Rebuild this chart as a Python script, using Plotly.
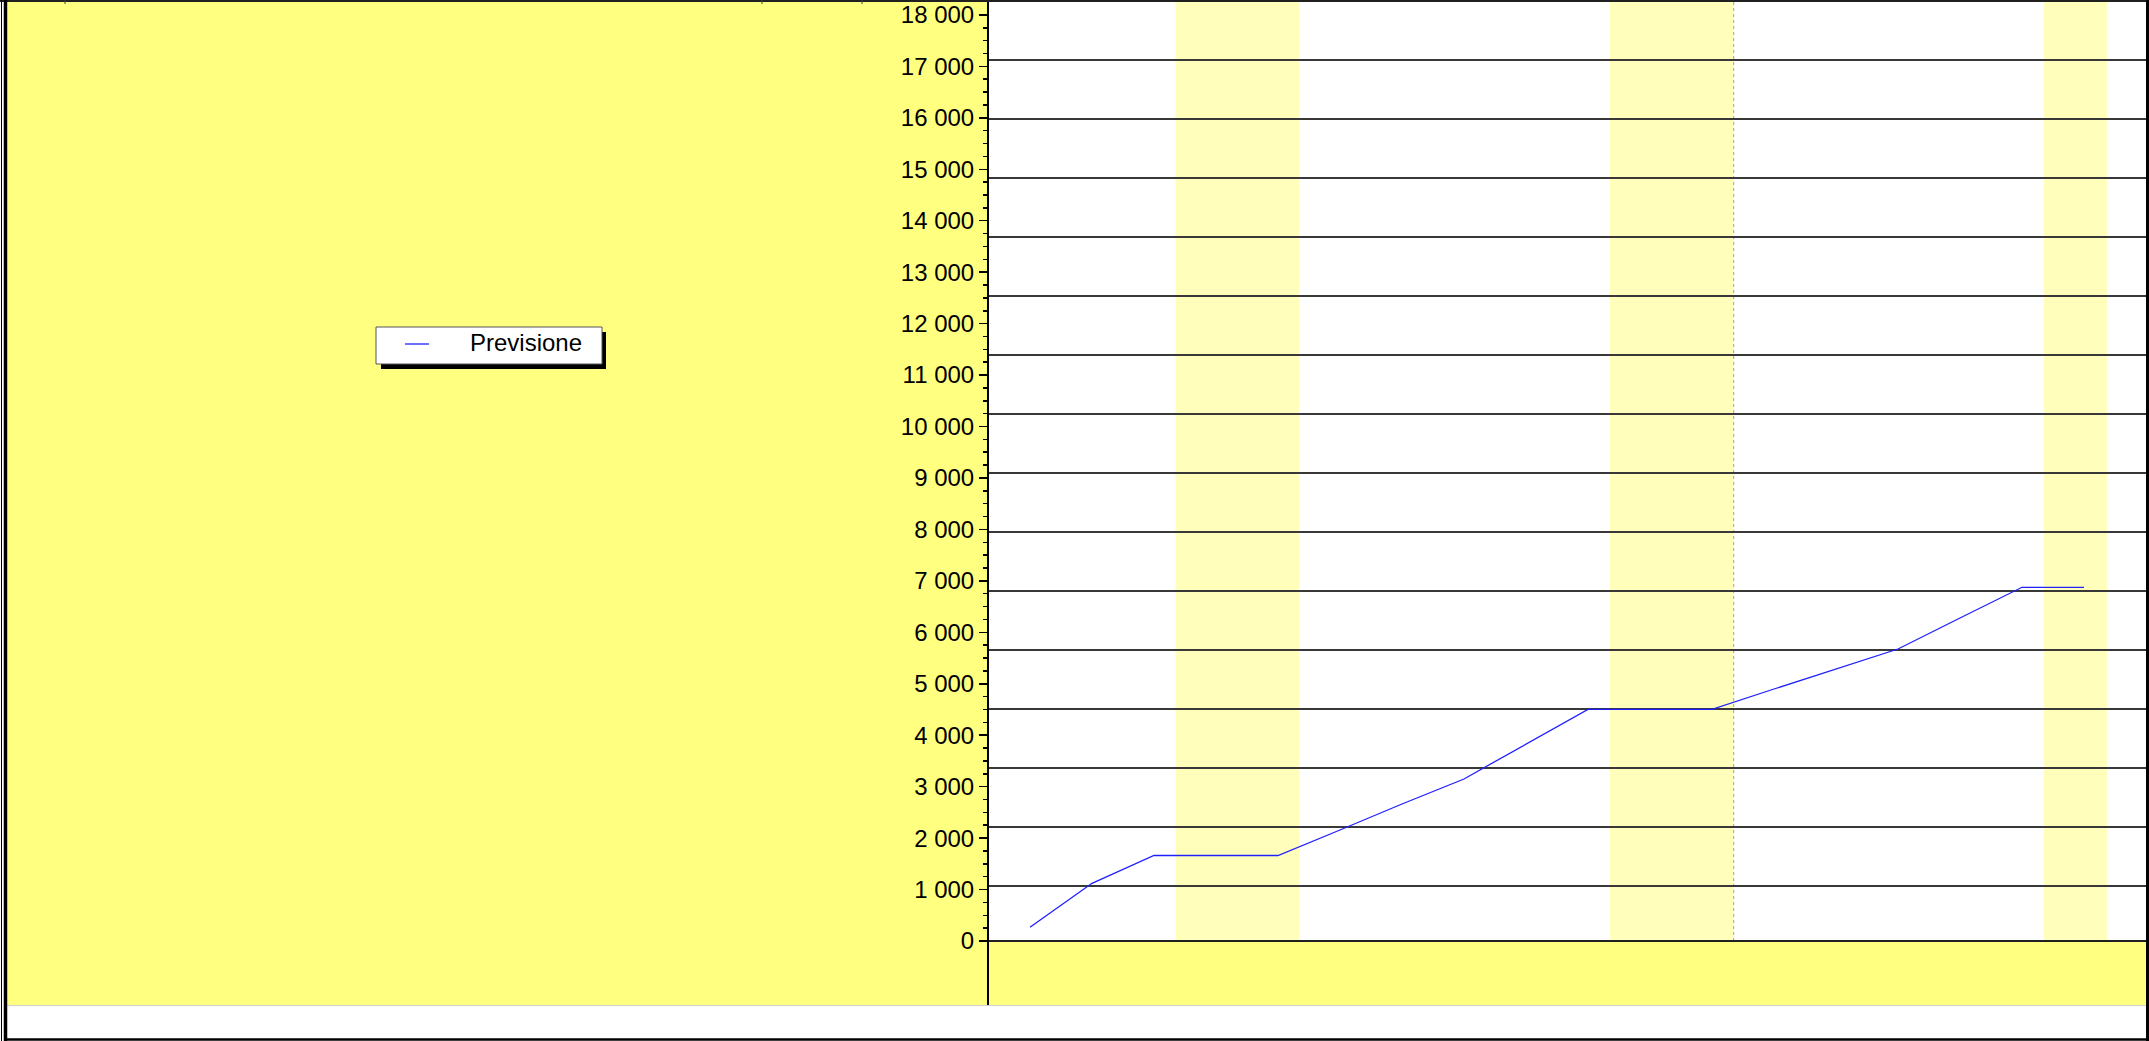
import plotly.graph_objects as go

W, H = 2149, 1041

# ---------------- data ----------------
GIORNI = [0, 1, 2, 3, 4, 5, 6, 7, 8, 9, 10, 11, 12, 13, 14, 15, 16, 17]
PREVISIONE = [266, 1121, 1662, 1662, 1662, 2157, 2663, 3149, 3826, 4503,
              4503, 4503, 4898, 5287, 5675, 6278, 6875, 6875]
SERIE_NOME = "Previsione"

Y_TICKS = [0, 1000, 2000, 3000, 4000, 5000, 6000, 7000, 8000, 9000,
           10000, 11000, 12000, 13000, 14000, 15000, 16000, 17000, 18000]
Y_TICK_LABELS = ["0", "1 000", "2 000", "3 000", "4 000", "5 000", "6 000",
                 "7 000", "8 000", "9 000", "10 000", "11 000", "12 000",
                 "13 000", "14 000", "15 000", "16 000", "17 000", "18 000"]

# highlighted bands (x units) and "today" marker
BANDE_INIZIO = [2.35, 9.35, 16.35]
BANDE_FINE = [4.35, 11.35, 17.37]
OGGI = 11.35

# ---------------- axes / styles ----------------
X_RANGE = [-0.661, 18.0]
Y_RANGE = [-1244, 18251]
GRID_START, GRID_STEP = 1069, 1147
GRID_VALUES = [GRID_START + k * GRID_STEP for k in range(15)]
MINOR_TICKS = [v for v in range(250, 18000, 250) if v % 1000 != 0]

YELLOW = "#FFFF80"
BAND = "#FFFFBB"
LINE_COLOR = "#2020FF"
FONT = "Liberation Sans, Arial, sans-serif"
FONT_SIZE = 24


def px(x):
    return x / W


def py(y):
    return 1 - y / H


PLOT_L, PLOT_R, PLOT_T, PLOT_B = 989, 2146, 2, 1005
# legend box (page pixels)
LEG_L, LEG_R, LEG_T, LEG_B = 376, 602, 327, 364

fig = go.Figure()
fig.add_trace(go.Scatter(
    x=GIORNI, y=PREVISIONE, mode="lines", name=SERIE_NOME,
    line=dict(color=LINE_COLOR, width=1.3), xaxis="x", yaxis="y",
    showlegend=False,
))
# helper trace so the grid axis exists
fig.add_trace(go.Scatter(x=[None], y=[None], xaxis="x", yaxis="y2",
                         showlegend=False, hoverinfo="skip"))

shapes = []
# white strip at bottom and left of page
shapes.append(dict(type="rect", xref="paper", yref="paper", x0=0, x1=1,
                   y0=0, y1=py(PLOT_B), fillcolor="white", line_width=0, layer="below"))
shapes.append(dict(type="rect", xref="paper", yref="paper", x0=0, x1=px(7.5),
                   y0=0, y1=1, fillcolor="white", line_width=0, layer="below"))
# bands
for a, b in zip(BANDE_INIZIO, BANDE_FINE):
    shapes.append(dict(type="rect", xref="x", yref="y", x0=a, x1=b, y0=0, y1=Y_RANGE[1],
                       fillcolor=BAND, line_width=0, layer="below"))
# below-zero yellow area in plot
shapes.append(dict(type="rect", xref="x", yref="y", x0=X_RANGE[0], x1=X_RANGE[1],
                   y0=Y_RANGE[0], y1=0, fillcolor=YELLOW, line_width=0, layer="below"))
# today dotted line
shapes.append(dict(type="line", xref="x", yref="y", x0=OGGI, x1=OGGI, y0=0, y1=Y_RANGE[1],
                   line=dict(color="#A0A0A0", width=1, dash="dot"), layer="below"))
# legend: shadow, box, sample line
shapes.append(dict(type="rect", xref="paper", yref="paper", x0=px(LEG_L + 5), x1=px(LEG_R + 4),
                   y0=py(LEG_B + 5), y1=py(LEG_T + 5), fillcolor="black", line_width=0, layer="above"))
shapes.append(dict(type="rect", xref="paper", yref="paper", x0=px(LEG_L), x1=px(LEG_R),
                   y0=py(LEG_B), y1=py(LEG_T), fillcolor="white",
                   line=dict(color="#555555", width=1), layer="above"))
shapes.append(dict(type="line", xref="paper", yref="paper", x0=px(LEG_L + 29), x1=px(LEG_L + 53),
                   y0=py(344), y1=py(344), line=dict(color=LINE_COLOR, width=1.3), layer="above"))
# thin gray line between yellow page and white strip
shapes.append(dict(type="line", xref="paper", yref="paper", x0=px(7), x1=px(2146),
                   y0=py(1005.5), y1=py(1005.5), line=dict(color="#CFCFCF", width=1), layer="above"))
# frame lines
shapes.append(dict(type="line", xref="paper", yref="paper", x0=0, x1=1, y0=py(1), y1=py(1),
                   line=dict(color="#202020", width=2), layer="above"))
shapes.append(dict(type="line", xref="paper", yref="paper", x0=px(1.5), x1=px(1.5), y0=0, y1=1,
                   line=dict(color="black", width=1), layer="above"))
shapes.append(dict(type="line", xref="paper", yref="paper", x0=px(5.5), x1=px(5.5), y0=0, y1=1,
                   line=dict(color="black", width=3.5), layer="above"))
shapes.append(dict(type="line", xref="paper", yref="paper", x0=px(4), x1=1, y0=py(1039.5), y1=py(1039.5),
                   line=dict(color="black", width=2.5), layer="above"))
shapes.append(dict(type="line", xref="paper", yref="paper", x0=px(2147.5), x1=px(2147.5), y0=0, y1=1,
                   line=dict(color="black", width=3), layer="above"))
for tx in [65, 762, 862]:
    shapes.append(dict(type="line", xref="paper", yref="paper", x0=px(tx), x1=px(tx),
                       y0=py(0), y1=py(4), line=dict(color="#404040", width=1), layer="above"))

annotations = [dict(xref="paper", yref="paper", x=px(LEG_L + 92), y=py(342),
                    xanchor="left", yanchor="middle", text=SERIE_NOME, showarrow=False,
                    font=dict(family=FONT, size=FONT_SIZE, color="black"))]

fig.update_layout(
    template="none",
    width=W, height=H,
    margin=dict(l=0, r=0, t=0, b=0, pad=0),
    paper_bgcolor=YELLOW,
    plot_bgcolor="white",
    separators=", ",
    hovermode=False,
    showlegend=False,
    font=dict(family=FONT, size=FONT_SIZE, color="black"),
    xaxis=dict(domain=[px(PLOT_L), px(PLOT_R)], range=X_RANGE, showgrid=False,
               zeroline=False, showline=False, showticklabels=False, ticks="",
               automargin=False, fixedrange=True),
    yaxis=dict(domain=[py(PLOT_B), py(PLOT_T)], range=Y_RANGE, anchor="x",
               tickmode="array", tickvals=Y_TICKS, ticktext=Y_TICK_LABELS,
               ticks="outside", ticklen=8, tickwidth=1.5, tickcolor="black",
               showline=True, linecolor="black", linewidth=2,
               showgrid=False, zeroline=True, zerolinecolor="#202020", zerolinewidth=1.5,
               tickfont=dict(family=FONT, size=FONT_SIZE, color="black"),
               minor=dict(tickmode="array", tickvals=MINOR_TICKS, ticks="outside",
                          ticklen=4, tickwidth=1.5, tickcolor="black", showgrid=False),
               automargin=False, fixedrange=True),
    yaxis2=dict(overlaying="y", anchor="x", range=Y_RANGE, tickmode="array",
                tickvals=GRID_VALUES, showticklabels=False, ticks="",
                showgrid=True, gridcolor="#383838", gridwidth=1.5,
                zeroline=False, showline=False, automargin=False, fixedrange=True),
    shapes=shapes,
    annotations=annotations,
)

fig.write_html("out.html", config={"displayModeBar": False, "staticPlot": True},
               post_script="document.body.style.margin='0';document.body.style.overflow='hidden';")
